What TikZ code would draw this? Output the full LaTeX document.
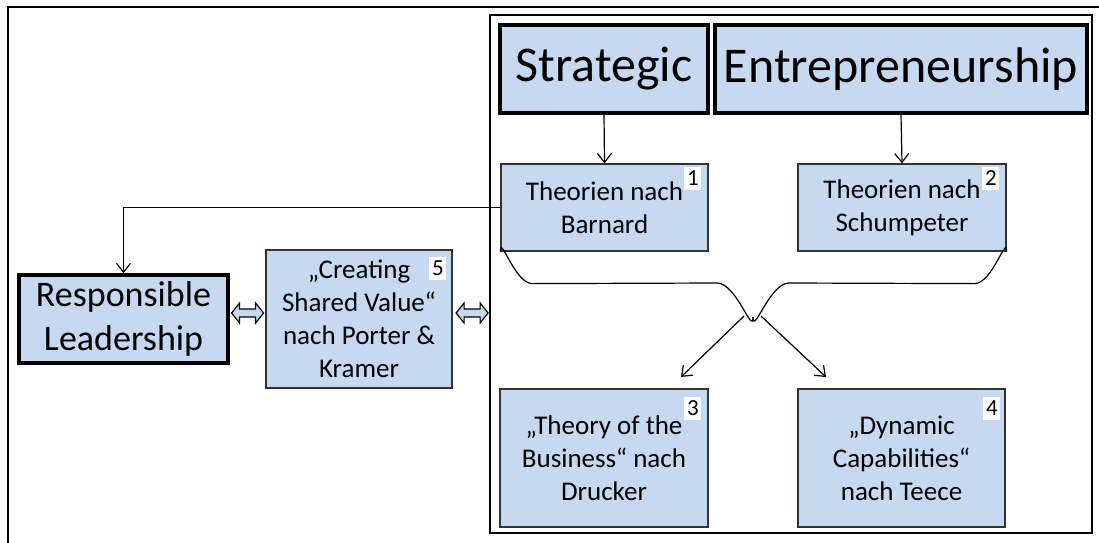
\documentclass[tikz,border=0pt]{standalone}
\usepackage{fontspec}
\setmainfont{Carlito}
\usetikzlibrary{arrows.meta,calc,positioning}
\definecolor{boxblue}{RGB}{198,217,240}
\newcommand{\twoway}[1]{\draw[dblarrow] (#1) ++(-16,0) -- ++(8,-10) -- ++(0,6) -- ++(16,0) -- ++(0,-6) -- ++(8,10) -- ++(-8,10) -- ++(0,-6) -- ++(-16,0) -- ++(0,6) -- cycle;}
\begin{document}
\begin{tikzpicture}[x=1pt,y=-1pt,
    theory/.style={draw=black!80,line width=1.2pt,fill=boxblue,align=center,inner sep=0pt,
      font=\fontsize{27pt}{33pt}\selectfont},
    headbox/.style={draw=black,line width=3.5pt,fill=boxblue,align=center,inner sep=0pt},
    numtag/.style={fill=white,inner sep=0pt,minimum width=17pt,minimum height=23pt,
      font=\fontsize{23pt}{25pt}\selectfont},
    conn/.style={line width=1.2pt,-{Straight Barb[length=9pt,width=14pt]}},
    dblarrow/.style={draw=black,line width=1.2pt,fill=boxblue,line join=miter}]
    \useasboundingbox (0,0) rectangle (1099,542);
    \clip (0,0) rectangle (1099,542);
    \draw[line width=2.2pt] (8,560) -- (8,7) -- (1110,7);
    \draw[line width=2pt] (490,15) rectangle (1092,533);

    \node[headbox,minimum width=208pt,minimum height=88pt,font=\fontsize{50pt}{58pt}\selectfont] (strat) at (604,69) {Strategic};
    \node[headbox,minimum width=372pt,minimum height=88pt,font=\fontsize{50pt}{58pt}\selectfont] (entre) at (901,69) {Entrepreneurship};
    \node[headbox,minimum width=209pt,minimum height=88pt,font=\fontsize{36pt}{44pt}\selectfont] (resp) at (123.5,319) {Responsible\\Leadership};

    \node[theory,minimum width=207pt,minimum height=87pt] (barnard) at (604.5,207.5) {Theorien nach\\Barnard};
    \node[theory,minimum width=208pt,minimum height=87pt] (schump) at (902,207.5) {Theorien nach\\Schumpeter};
    \node[theory,minimum width=208pt,minimum height=138pt] (drucker) at (604,458) {„Theory of the\\Business“ nach\\Drucker};
    \node[theory,minimum width=207pt,minimum height=138pt] (teece) at (901.5,458) {„Dynamic\\Capabilities“\\nach Teece};
    \node[theory,minimum width=186pt,minimum height=138pt] (csv) at (359,319) {„Creating\\Shared Value“\\nach Porter \&\\Kramer};

    \node[numtag,below left=3pt and 7pt of barnard.north east] (n1) {1};
    \node[numtag,below left=3pt and 7pt of schump.north east] (n2) {2};
    \node[numtag,below left=8pt and 7pt of drucker.north east] (n3) {3};
    \node[numtag,below left=8pt and 5pt of teece.north east] (n4) {4};
    \node[numtag,below left=7pt and 6pt of csv.north east] (n5) {5};

    \draw[conn] (strat.south) -- (barnard.north);
    \draw[conn] (entre.south) -- (schump.north);
    \draw[conn] (barnard.west) -| (resp.north);

    % brace below the two theory boxes
    \coordinate (tip) at (753,317);
    \draw[line width=1.2pt] (barnard.south west) to[out=90,in=180] ++(32,32) -- (717,283) to[out=0,in=270] (tip);
    \draw[line width=1.2pt] (schump.south east) to[out=90,in=0] ++(-32,32) -- (789,283) to[out=180,in=270] (tip);

    \coordinate (tipL) at (744,316);
    \coordinate (tipR) at (761,316);
    \coordinate (arrL) at (681,377);
    \coordinate (arrR) at (826,377);
    \draw[conn] (tipL) -- (arrL);
    \draw[conn] (tipR) -- (arrR);

    \coordinate (dblL) at ($(resp.east)!0.5!(csv.west)+(0,-6)$);
    \coordinate (dblR) at ($(csv.east)+(19.5,-6)$);
    \twoway{dblL}
    \twoway{dblR}
  \end{tikzpicture}
\end{document}
